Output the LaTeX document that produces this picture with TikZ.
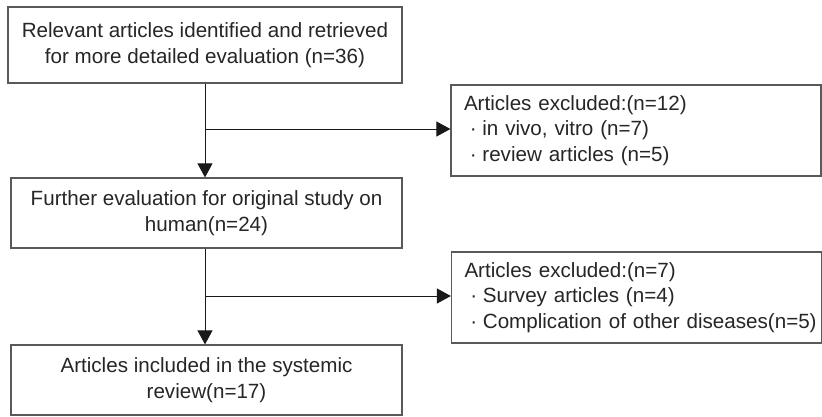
\documentclass[tikz,border=0pt]{standalone}
\usepackage{fontspec}
\setmainfont{Liberation Sans}
\usetikzlibrary{arrows.meta}
\tikzset{
  box/.style={draw=black!65, line width=1.2pt, fill=white, text=black!85,
    font=\fontsize{20.6}{25.5}\selectfont, align=center, inner sep=0pt},
  exbox/.style={box, align=left, inner xsep=13pt, text width=344pt,
    minimum width=370pt, minimum height=91pt},
  conn/.style={draw=black!90, line width=0.9pt},
  arr/.style={conn, -{Triangle[length=14pt,width=15pt]}}
}
\newcommand{\bul}{\hspace*{0.28em}·\hspace*{0.28em}}
\begin{document}
\begin{tikzpicture}[x=1pt,y=-1pt]
\useasboundingbox (0,0) rectangle (822,416);
\node[box, minimum width=394pt, minimum height=76pt] (b1) at (205,45)
  {Relevant articles identified and retrieved\\for more detailed evaluation (n=36)};
\node[box, minimum width=391pt, minimum height=70pt] (b2) at (206.5,213)
  {Further evaluation for original study on\\human(n=24)};
\node[box, minimum width=391pt, minimum height=70pt] (b3) at (206.5,380)
  {Articles included in the systemic\\review(n=17)};
\node[exbox] (e1) at (636,130.5)
  {Articles excluded:(n=12)\\\bul in vivo, vitro (n=7)\\\bul review articles (n=5)};
\node[exbox] (e2) at (636.5,297.5)
  {Articles excluded:(n=7)\\\mbox{\bul Survey articles (n=4)}\\\mbox{\bul Complication of other diseases(n=5)}};
\coordinate (j1) at (205,129);
\coordinate (j2) at (205,296);
\draw[arr] (b1.south) -- (b2.north -| b1.south);
\draw[arr] (b2.south -| b1.south) -- (b3.north -| b1.south);
\draw[arr] (j1) -- (j1 -| e1.west);
\draw[arr] (j2) -- (j2 -| e2.west);
\end{tikzpicture}
\end{document}
